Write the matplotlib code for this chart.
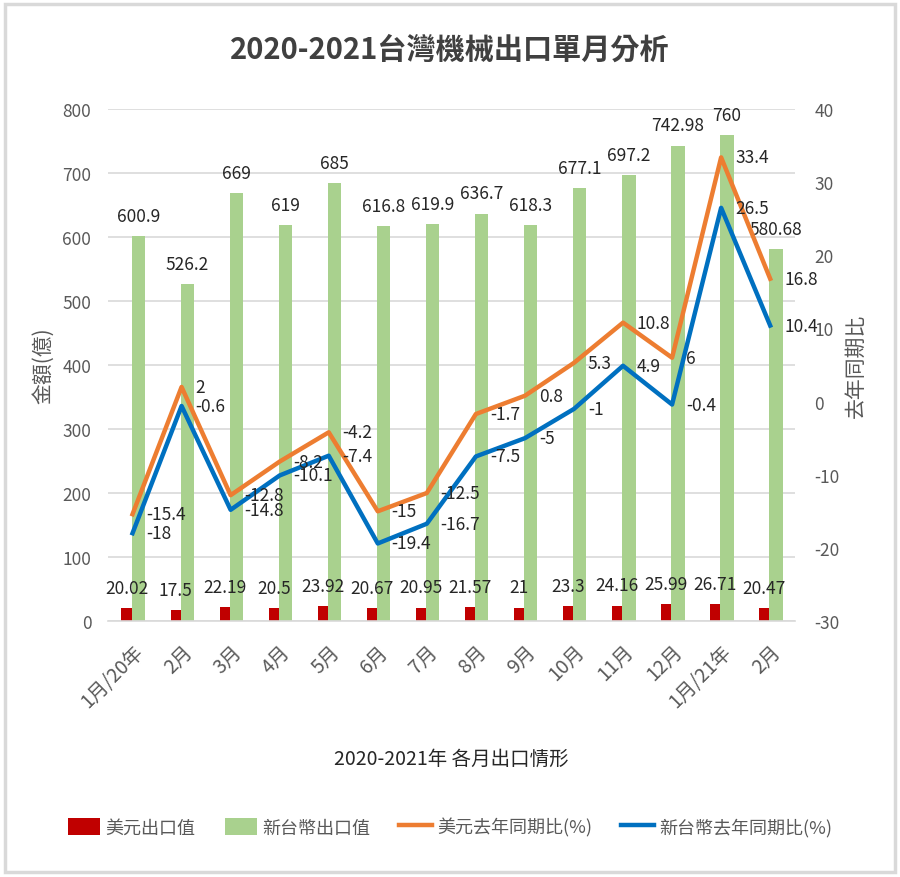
import matplotlib.pyplot as plt
import matplotlib.patches as patches
import numpy as np

plt.rcParams['font.family'] = ['Noto Sans CJK TC', 'DejaVu Sans']
plt.rcParams['axes.unicode_minus'] = False

# Monthly machinery exports, Jan 2020 - Feb 2021
months = ['1月/20年', '2月', '3月', '4月', '5月', '6月', '7月', '8月', '9月',
          '10月', '11月', '12月', '1月/21年', '2月']
usd_export = [20.02, 17.5, 22.19, 20.5, 23.92, 20.67, 20.95, 21.57, 21,
              23.3, 24.16, 25.99, 26.71, 20.47]
twd_export = [600.9, 526.2, 669, 619, 685, 616.8, 619.9, 636.7, 618.3,
              677.1, 697.2, 742.98, 760, 580.68]
usd_yoy = [-15.4, 2, -12.8, -8.2, -4.2, -15, -12.5, -1.7, 0.8,
           5.3, 10.8, 6, 33.4, 16.8]
twd_yoy = [-18, -0.6, -14.8, -10.1, -7.4, -19.4, -16.7, -7.5, -5,
           -1, 4.9, -0.4, 26.5, 10.4]

red = '#C00000'
green = '#A9D18E'
orange = '#ED7D31'
blue = '#0070C0'
grey = '#595959'
lab = '#262626'

x = np.arange(len(months))

fig = plt.figure(figsize=(9, 8.78), dpi=100)
ax = fig.add_axes([0.12, 0.2916, 0.763, 0.583])
ax2 = ax.twinx()

# bars on the left axis
b1 = ax.bar(x - 0.12, usd_export, width=0.21, color=red, label='美元出口值', zorder=2)
b2 = ax.bar(x + 0.12, twd_export, width=0.27, color=green, label='新台幣出口值', zorder=2)
ax.set_ylim(0, 800)
ax.set_xlim(-0.5, len(months) - 0.5)
ax.set_yticks(range(0, 801, 100))
ax.grid(axis='y', color='#D9D9D9', lw=1.2, zorder=0)
ax.set_axisbelow(True)

for xi, v in zip(x, usd_export):
    ax.annotate(f'{v:g}', (xi - 0.12, v), xytext=(0, 8), textcoords='offset points',
                ha='center', va='bottom', fontsize=12.5, color=lab)
for xi, v in zip(x, twd_export):
    ax.annotate(f'{v:g}', (xi + 0.12, v), xytext=(0, 8), textcoords='offset points',
                ha='center', va='bottom', fontsize=12.5, color=lab)

# yoy lines on the right axis
l1, = ax2.plot(x, usd_yoy, color=orange, lw=3.2, label='美元去年同期比(%)', zorder=3)
l2, = ax2.plot(x, twd_yoy, color=blue, lw=3.2, label='新台幣去年同期比(%)', zorder=3)
ax2.set_ylim(-30, 40)
ax2.set_yticks(range(-30, 41, 10))
for xi, v in zip(x, usd_yoy):
    ax2.annotate(f'{v:g}', (xi, v), xytext=(10, 0), textcoords='offset points',
                 ha='left', va='center', fontsize=12.5, color=lab)
for xi, v in zip(x, twd_yoy):
    ax2.annotate(f'{v:g}', (xi, v), xytext=(10, 0), textcoords='offset points',
                 ha='left', va='center', fontsize=12.5, color=lab)

for a in (ax, ax2):
    for s in a.spines.values():
        s.set_visible(False)
    a.tick_params(length=0, labelsize=12.5, labelcolor=grey)
ax.spines['bottom'].set_visible(True)
ax.spines['bottom'].set_color('#D9D9D9')
ax.spines['bottom'].set_linewidth(1.2)

ax.set_xticks(x)
ax.set_xticklabels(months, rotation=45, ha='right', rotation_mode='anchor', fontsize=14)
ax.tick_params(axis='x', pad=14)
ax.tick_params(axis='y', pad=12)
ax2.tick_params(axis='y', pad=14)

ax.set_ylabel('金額(億)', fontsize=15, color=grey, labelpad=6)
ax2.set_ylabel('去年同期比', fontsize=15, color=grey, rotation=90, labelpad=4)
ax.set_xlabel('2020-2021年 各月出口情形', fontsize=14, color=lab, labelpad=26)

fig.suptitle('2020-2021台灣機械出口單月分析', y=0.96, fontsize=21,
             fontweight='bold', color='#404040')

fig.legend([b1, b2, l1, l2], ['美元出口值', '新台幣出口值', '美元去年同期比(%)', '新台幣去年同期比(%)'],
           loc='center', bbox_to_anchor=(0.5, 0.057), ncol=4, frameon=False,
           fontsize=13, labelcolor=grey, handlelength=1.8, handleheight=1.1,
           handletextpad=0.3, columnspacing=1.6)

# light outer frame
fig.patches.append(patches.Rectangle((0.006, 0.006), 0.988, 0.988, transform=fig.transFigure,
                                     fill=False, edgecolor='#D9D9D9', lw=2.5))

fig.savefig('out.png', dpi=100)
